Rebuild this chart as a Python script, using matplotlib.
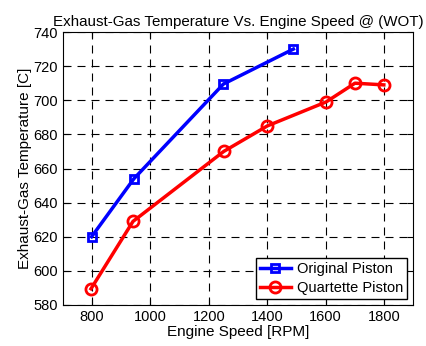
import matplotlib
matplotlib.use("Agg")
import matplotlib.pyplot as plt

orig_rpm = [798, 943, 1250, 1490]
orig_temp = [620, 654, 709.5, 730]
quart_rpm = [796, 940, 1251, 1401, 1602, 1701, 1800]
quart_temp = [589.5, 629, 670, 685, 699, 710, 709]
xticks = [800, 1000, 1200, 1400, 1600, 1800]
yticks = [580, 600, 620, 640, 660, 680, 700, 720, 740]

plt.rcParams['font.family'] = ['Liberation Sans', 'DejaVu Sans']
fig = plt.figure(figsize=(4.27, 3.46), dpi=100)
ax = fig.add_axes([63/427, 1-305/346, (413-63)/427, (305-32)/346])
ax.plot(orig_rpm, orig_temp, '-s', color='blue', lw=2.5, ms=6, mfc='none', mew=2, label='Original Piston')
ax.plot(quart_rpm, quart_temp, '-o', color='red', lw=2.5, ms=8, mfc='none', mew=2, label='Quartette Piston')
ax.set_xlim(700, 1900)
ax.set_ylim(580, 740)
ax.set_xticks(xticks)
ax.set_yticks(yticks)
ax.tick_params(direction='in', top=True, right=True, labelsize=10.5, length=4)
ax.grid(True, color='black', linestyle=(0, (7.2, 5.4)), linewidth=0.8)
ax.set_xlabel('Engine Speed [RPM]', fontsize=11, labelpad=1)
ax.set_ylabel('Exhaust-Gas Temperature [C]', fontsize=11, labelpad=1)
ax.set_title('Exhaust-Gas Temperature Vs. Engine Speed @ (WOT)', fontsize=10.9, pad=4)
leg = ax.legend(loc='lower right', fontsize=10.5, fancybox=False, framealpha=1, edgecolor='black',
                borderaxespad=0.4, handlelength=2.1, handletextpad=0.4, borderpad=0.3, labelspacing=0.3)
leg.get_frame().set_linewidth(1.0)
fig.savefig('out.png', dpi=100)
